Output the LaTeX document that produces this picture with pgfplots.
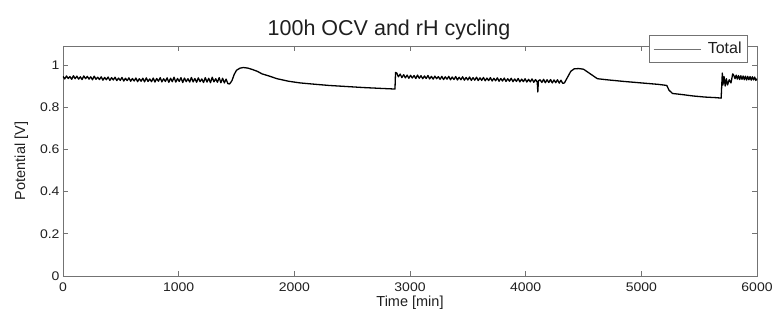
\documentclass[border=0pt]{standalone}
\usepackage{pgfplots}
\pgfplotsset{compat=1.18}
\usepackage{fontspec}
\setmainfont{Liberation Sans}
\newfontfamily\tickfont[FakeStretch=1.12]{Liberation Sans}
\definecolor{axgray}{gray}{0.45}
\definecolor{txtgray}{gray}{0.12}
\begin{document}
\begin{tikzpicture}
\begin{axis}[name=ax,
  scale only axis, width=694pt, height=230pt,
  xmin=0, xmax=6000, ymin=0, ymax=1.09,
  xtick={0,1000,...,6000}, ytick={0,0.2,...,1.0},
  yticklabels={0,0.2,0.4,0.6,0.8,1},
  scaled x ticks=false,
  /pgf/number format/assume math mode=true,
  xticklabel style={/pgf/number format/1000 sep={}, yshift=-3pt},
  tick align=inside, major tick length=5pt,
  axis line style={axgray, line width=0.8pt},
  every tick/.style={axgray, line width=0.8pt},
  tick label style={font=\tickfont\fontsize{12.5}{14}\selectfont, text=txtgray},
  label style={font=\fontsize{14.5}{16}\selectfont, text=txtgray},
  xlabel={Time [min]}, ylabel={Potential [V]},
  xlabel style={yshift=2pt}, ylabel style={yshift=5pt},
  title={100h OCV and rH cycling},
  title style={font=\fontsize{21.5}{23}\selectfont, text=txtgray, yshift=-4pt, xshift=-21pt},
  legend style={at={(1,1)}, anchor=north east, xshift=-9pt, yshift=11pt,
    draw=axgray, line width=0.8pt, font=\fontsize{16}{18}\selectfont, text=txtgray,
    inner xsep=4pt, inner ysep=5pt,
    /tikz/every odd column/.append style={column sep=5pt}},
  legend cell align=left,
  legend image code/.code={\draw[axgray, line width=0.6pt] (0pt,0pt) -- (47pt,0pt);},
]
\addplot[black, line width=1.3pt, line join=round] coordinates {
(0,0.946)(15,0.934)(30,0.948)(45,0.936)(60,0.945)(75,0.932)(90,0.949)(105,0.935)
(120,0.947)(135,0.933)(150,0.944)(165,0.931)(180,0.948)(195,0.935)(210,0.946)(225,0.933)
(240,0.944)(255,0.930)(270,0.947)(285,0.932)(300,0.942)(315,0.931)(330,0.944)(345,0.928)
(360,0.941)(375,0.930)(390,0.943)(405,0.927)(420,0.940)(435,0.929)(450,0.942)(465,0.926)
(480,0.938)(495,0.927)(510,0.941)(525,0.924)(540,0.937)(555,0.926)(570,0.939)(585,0.923)
(600,0.936)(615,0.924)(630,0.938)(645,0.921)(660,0.935)(675,0.923)(690,0.937)(705,0.920)
(720,0.939)(735,0.922)(750,0.934)(765,0.921)(780,0.938)(795,0.919)(810,0.936)(825,0.923)
(840,0.940)(855,0.920)(870,0.935)(885,0.922)(900,0.939)(915,0.918)(930,0.937)(945,0.921)
(960,0.942)(975,0.919)(990,0.936)(1005,0.922)(1020,0.940)(1035,0.917)(1050,0.938)(1065,0.921)
(1080,0.935)(1095,0.919)(1110,0.941)(1125,0.920)(1140,0.936)(1155,0.918)(1170,0.939)(1185,0.921)
(1200,0.934)(1215,0.917)(1230,0.940)(1245,0.919)(1260,0.937)(1275,0.916)(1290,0.942)(1305,0.920)
(1320,0.935)(1335,0.918)(1350,0.940)(1365,0.916)(1380,0.937)(1395,0.915)(1410,0.933)(1425,0.912)
(1440,0.910)(1460,0.925)(1480,0.955)(1500,0.975)(1530,0.985)(1560,0.988)
(1600,0.985)(1640,0.978)(1680,0.970)(1720,0.958)(1780,0.948)(1850,0.935)(1950,0.923)(2050,0.915)
(2150,0.910)(2300,0.903)(2450,0.898)(2600,0.893)(2750,0.889)(2870,0.886)(2875,0.965)
(2885,0.962)(2900,0.944)(2915,0.957)(2930,0.940)(2945,0.954)(2960,0.939)(2975,0.952)(2990,0.937)
(3005,0.951)(3020,0.938)(3035,0.950)(3050,0.936)(3065,0.952)(3080,0.937)(3095,0.949)(3110,0.935)
(3125,0.948)(3140,0.936)(3155,0.950)(3170,0.934)(3185,0.946)(3200,0.933)(3215,0.947)(3230,0.935)
(3245,0.945)(3260,0.932)(3275,0.946)(3290,0.931)(3305,0.944)(3320,0.933)(3335,0.946)(3350,0.930)
(3365,0.943)(3380,0.931)(3395,0.945)(3410,0.929)(3425,0.942)(3440,0.930)(3455,0.944)(3470,0.928)
(3485,0.941)(3500,0.929)(3515,0.943)(3530,0.927)(3545,0.940)(3560,0.928)(3575,0.942)(3590,0.926)
(3605,0.939)(3620,0.927)(3635,0.941)(3650,0.925)(3665,0.938)(3680,0.926)(3695,0.940)(3710,0.924)
(3725,0.937)(3740,0.925)(3755,0.939)(3770,0.923)(3785,0.936)(3800,0.924)(3815,0.938)(3830,0.922)
(3845,0.935)(3860,0.923)(3875,0.937)(3890,0.921)(3905,0.934)(3920,0.922)(3935,0.936)(3950,0.920)
(3965,0.933)(3980,0.921)(3995,0.935)(4010,0.919)(4025,0.932)(4040,0.920)(4055,0.934)(4070,0.918)
(4085,0.931)(4100,0.919)(4105,0.872)(4110,0.925)(4125,0.930)(4140,0.917)(4155,0.932)(4170,0.916)
(4185,0.930)(4200,0.917)(4215,0.931)(4230,0.915)(4245,0.929)(4260,0.916)(4275,0.930)(4290,0.914)
(4305,0.928)(4320,0.913)(4335,0.915)
(4360,0.940)(4390,0.970)(4420,0.982)(4460,0.983)(4500,0.980)(4540,0.965)(4580,0.950)(4620,0.935)
(4700,0.930)(4850,0.922)(5000,0.915)(5150,0.908)(5220,0.903)(5240,0.880)(5270,0.865)(5350,0.860)
(5450,0.853)(5550,0.848)(5650,0.845)(5690,0.843)(5700,0.962)(5705,0.905)(5715,0.945)(5725,0.900)
(5735,0.935)(5745,0.905)(5760,0.930)(5775,0.915)(5790,0.958)(5800,0.950)
(5810,0.935)(5820,0.952)(5830,0.933)(5840,0.950)(5850,0.931)(5860,0.949)(5870,0.932)(5880,0.948)
(5890,0.930)(5900,0.947)(5910,0.929)(5920,0.946)(5930,0.930)(5940,0.945)(5950,0.928)(5960,0.944)
(5970,0.929)(5980,0.943)(5990,0.927)(6000,0.935)
};
\addlegendentry{Total}
\end{axis}
\path[use as bounding box] ([xshift=-63pt,yshift=-44pt]ax.south west) rectangle ([xshift=20pt,yshift=46pt]ax.north east);
\end{tikzpicture}
\end{document}
